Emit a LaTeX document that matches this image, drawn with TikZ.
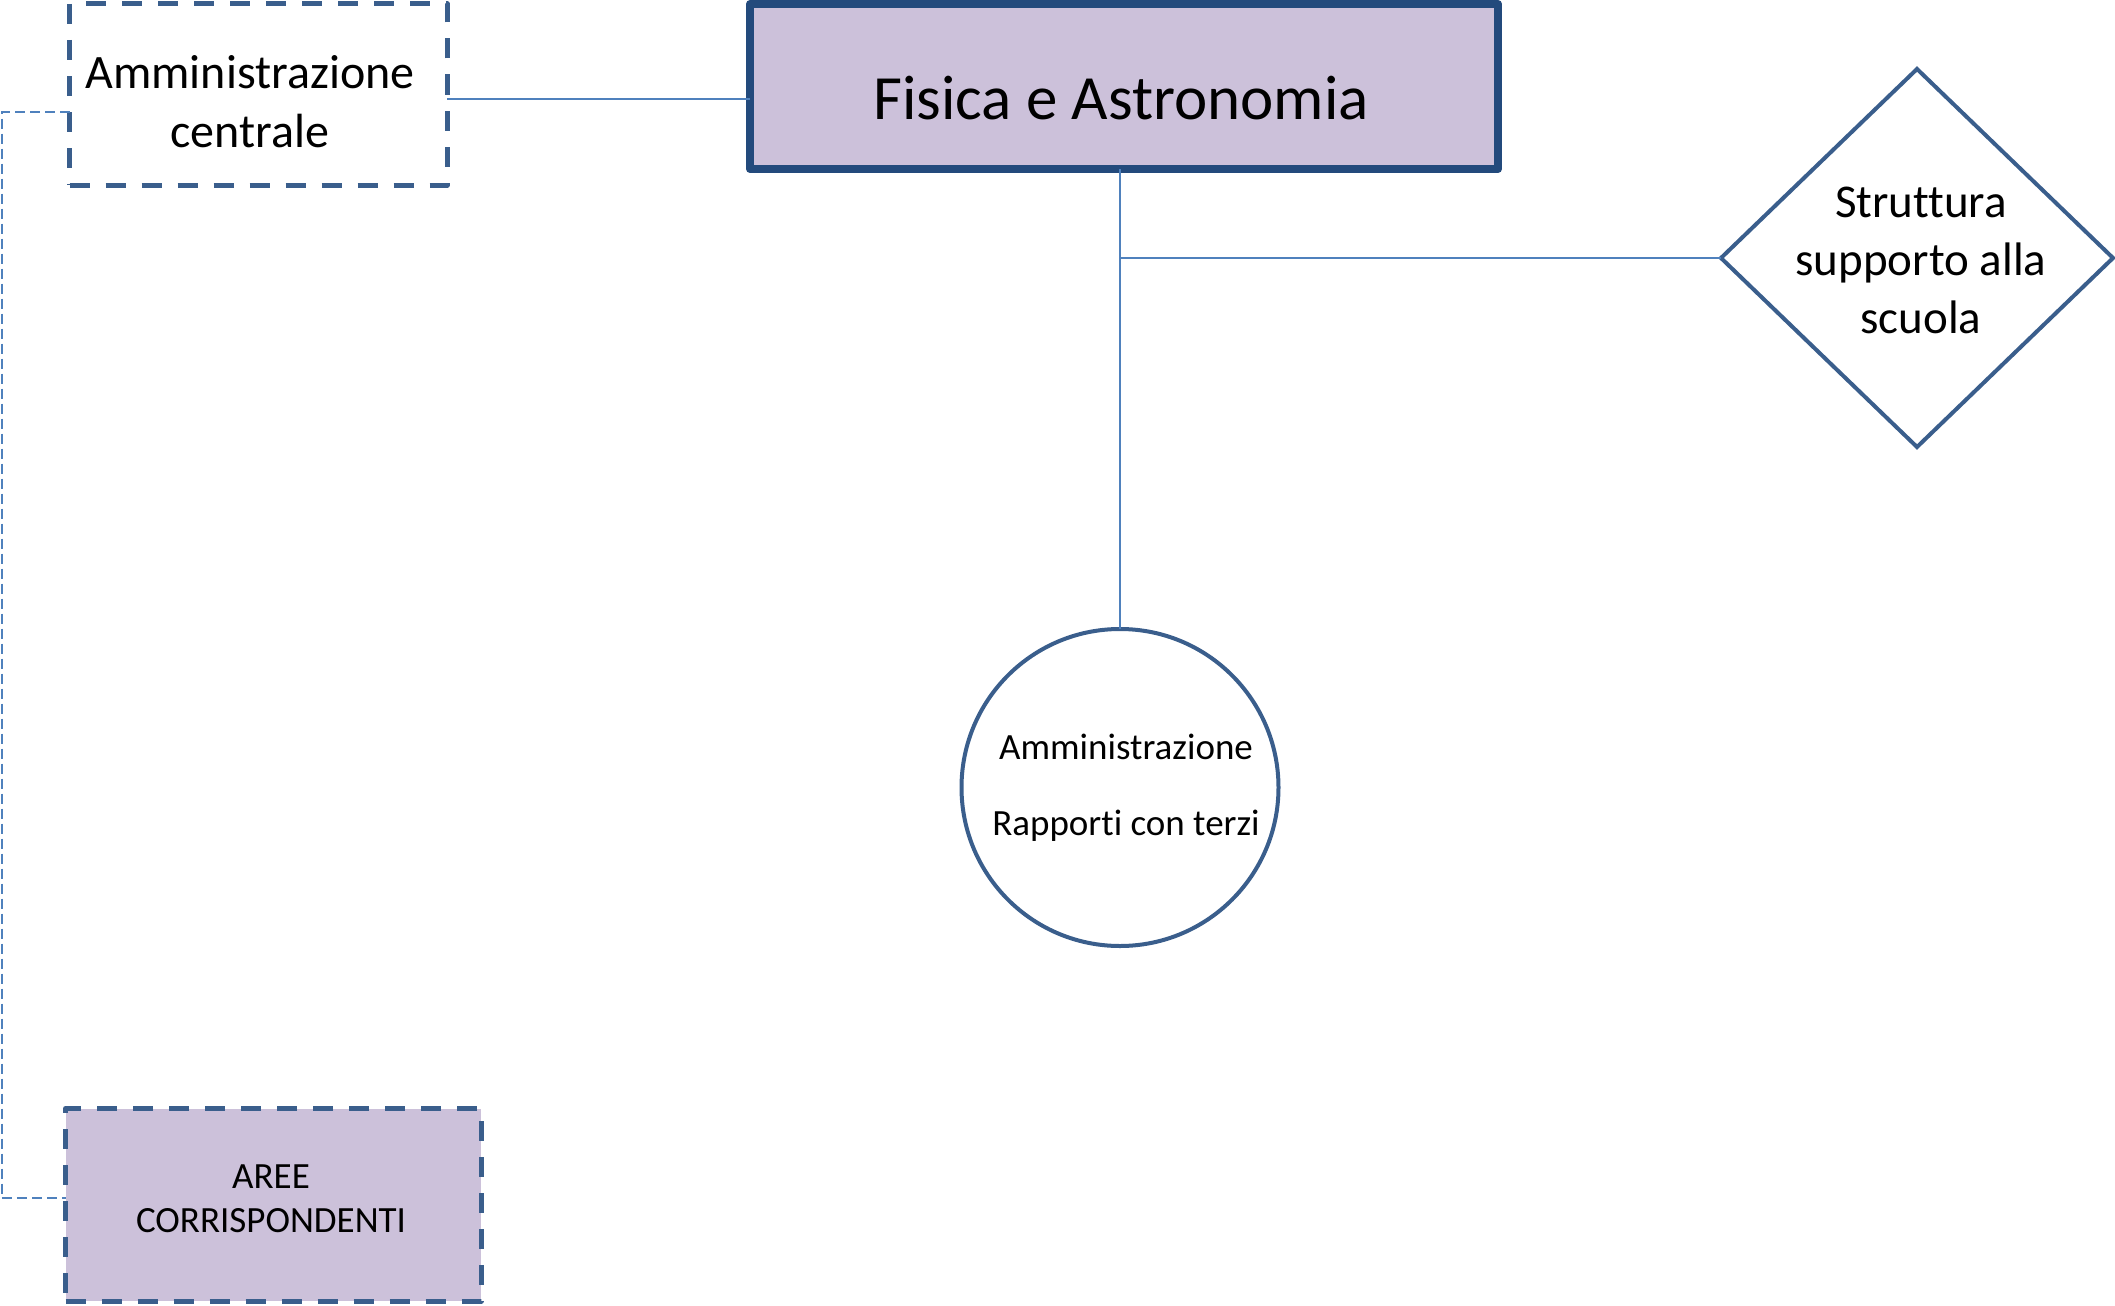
\documentclass[tikz,border=0pt]{standalone}
\usepackage{fontspec}
\setmainfont{Carlito}[RawFeature={-liga;-clig;-dlig}]
\usetikzlibrary{shapes.geometric}
\definecolor{fillc}{HTML}{CCC1DA}
\definecolor{edgec}{HTML}{3A5E8C}
\definecolor{mainedge}{HTML}{234A7C}
\definecolor{linec}{HTML}{4F81BD}
\tikzset{
  shapebox/.style={rectangle, inner sep=0pt, outer sep=0pt},
  dashbox/.style={shapebox, draw=edgec, line width=5pt, dash pattern=on 20pt off 16pt, line join=round},
  mainbox/.style={shapebox, draw=mainedge, fill=fillc, line width=8pt, line join=round},
  txt/.style={inner sep=0pt, align=center, text=black},
  conn/.style={draw=linec, line width=2pt},
  dconn/.style={draw=linec, line width=2pt, dash pattern=on 10pt off 5pt},
}
\begin{document}
\begin{tikzpicture}[x=1pt,y=-1pt]
\useasboundingbox (0,0) rectangle (2115,1306);
% shapes
\node[mainbox, minimum width=748pt, minimum height=165pt] (main) at (1124,86.5) {};
\node[dashbox, fill=white, minimum width=377.5pt, minimum height=181pt] (ac) at (258.25,94.5) {};
\node[dashbox, fill=fillc, minimum width=415.5pt, minimum height=192.5pt] (aree) at (273.25,1204.75) {};
\node[diamond, draw=edgec, line width=4pt, fill=white, inner sep=0pt, outer sep=0pt, minimum width=392pt, minimum height=378pt] (dia) at (1917,258) {};
\node[circle, draw=edgec, line width=4pt, fill=white, inner sep=0pt, outer sep=0pt, minimum size=317pt] (circ) at (1120,787.5) {};
% texts
\node[txt, font=\fontsize{63}{74}\selectfont] (maintxt) at (1121,98) {Fisica e Astronomia};
\node[txt, font=\fontsize{48}{59}\selectfont] (actxt) at (250,102) {Amministrazione\\centrale};
\node[txt, font=\fontsize{47}{58}\selectfont] (diatxt) at (1921,260) {Struttura\\supporto alla\\scuola};
\node[txt, font=\fontsize{37}{76}\selectfont] (circtxt) at (1126,787.5) {Amministrazione\\Rapporti con terzi};
\node[txt, font=\fontsize{37}{44.5}\selectfont] (areetxt) at (271,1198.5) {AREE\\CORRISPONDENTI};
% connectors
\coordinate (j1) at (1.5,111.5);
\coordinate (j2) at (1.5,1198);
\draw[conn] (ac.east |- 0,98.5) -- (main.west |- 0,98.5);
\draw[conn] (circ.north |- main.south) -- (circ.north);
\draw[conn] (circ.north |- dia.west) -- (dia.west);
\draw[dconn] (ac.west |- j1) -- (j1) -- (j2) -- (aree.west |- j2);
\end{tikzpicture}
\end{document}
